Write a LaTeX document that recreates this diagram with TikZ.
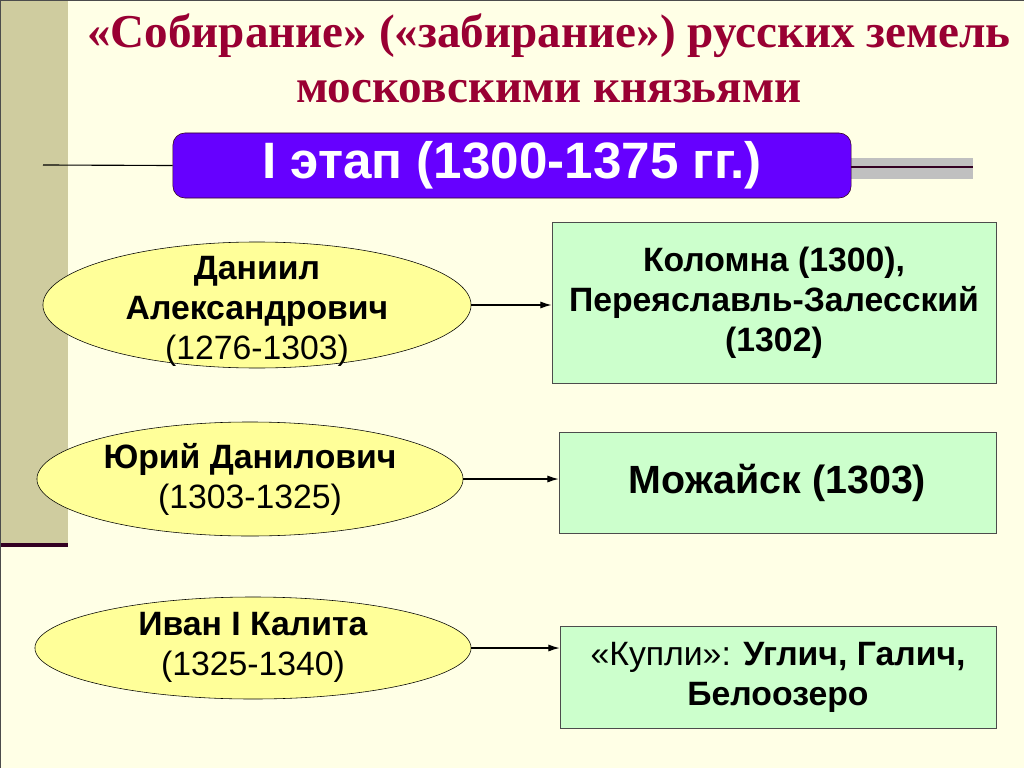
\documentclass[tikz,border=0pt]{standalone}
\usepackage{fontspec}
\setmainfont{Liberation Serif}
\setsansfont{Liberation Sans}
\usetikzlibrary{shapes.geometric,arrows.meta}
\definecolor{paper}{HTML}{FFFFE6}
\definecolor{strip}{HTML}{CFCC9F}
\definecolor{titlered}{HTML}{990033}
\definecolor{stagebg}{HTML}{6600FF}
\definecolor{princebg}{HTML}{FFFF99}
\definecolor{landbg}{HTML}{CCFFCC}
\definecolor{barbg}{HTML}{C0C0C0}
\definecolor{darkline}{HTML}{330022}
\begin{document}
\begin{tikzpicture}[x=0.025cm,y=-0.025cm,
  title/.style={text=titlered,align=center,font=\bfseries\fontsize{33.5}{39}\selectfont},
  prince/.style={ellipse,draw=black,fill=princebg,inner sep=0pt},
  princename/.style={align=center,font=\sffamily\fontsize{24}{28.5}\selectfont},
  land/.style={draw=black!70,fill=landbg,inner sep=0pt,align=center,
    font=\sffamily\bfseries\fontsize{24}{28.5}\selectfont},
  link/.style={-{Latex[length=8pt,width=5pt]},thick}]
\useasboundingbox (0,0) rectangle (1024,768);
\fill[paper] (0,0) rectangle (1024,768);
% left strip
\fill[strip] (0,0) rectangle (68,545);
\draw[darkline,line width=2.8pt] (0,545) -- (68,545);
\draw[black!70,line width=0.7pt] (0,0) rectangle (1024,768);
\node[title] (title) at (549,58) {«Собирание» («забирание») русских земель\\ московскими князьями};
% stage banner
\fill[barbg] (851,158) rectangle (973,179);
\node[draw=darkline,fill=stagebg,rounded corners=0.3cm,minimum width=16.95cm,minimum height=1.625cm,
  text=white,font=\sffamily\bfseries\fontsize{36.4}{40}\selectfont] (stage) at (512,165.5) {I этап (1300-1375 гг.)};
\coordinate (barend) at (973,167);
\coordinate (linestart) at (43,165);
\draw[thick] (linestart) -- (stage.west);
\draw[darkline,line width=1.4pt] (stage.east |- barend) -- (barend);
% princes
\node[prince,minimum width=10.7cm,minimum height=3.15cm] (daniil) at (257,305) {};
\node[princename] (daniil-name) at (257,311) {\textbf{Даниил}\\ \textbf{Александрович}\\ (1276-1303)};
\node[prince,minimum width=10.65cm,minimum height=2.85cm] (yuri) at (250,479) {};
\node[princename] (yuri-name) at (250,479) {\textbf{Юрий Данилович}\\ (1303-1325)};
\node[prince,minimum width=10.9cm,minimum height=2.55cm] (ivan) at (253,648) {};
\node[princename] (ivan-name) at (253,647) {\textbf{Иван I Калита}\\ (1325-1340)};
% lands
\node[land,minimum width=11.1cm,minimum height=4.025cm] (kolomna) at (774,302.5)
  {Коломна (1300),\\ Переяславль-Залесский\\ (1302)};
\node[land,minimum width=10.925cm,minimum height=2.525cm,font=\sffamily\bfseries\fontsize{28}{32}\selectfont]
  (mozhaisk) at (777.5,482.5) {Можайск (1303)};
\node[land,minimum width=10.9cm,minimum height=2.55cm] (kupli) at (778,677)
  {\mdseries«Купли»: \bfseries Углич, Галич,\\ Белоозеро};
\draw[link] (daniil.east) -- (daniil.east -| kolomna.west);
\draw[link] (yuri.east) -- (yuri.east -| mozhaisk.west);
\draw[link] (ivan.east) -- (ivan.east -| kupli.west);
\end{tikzpicture}
\end{document}
